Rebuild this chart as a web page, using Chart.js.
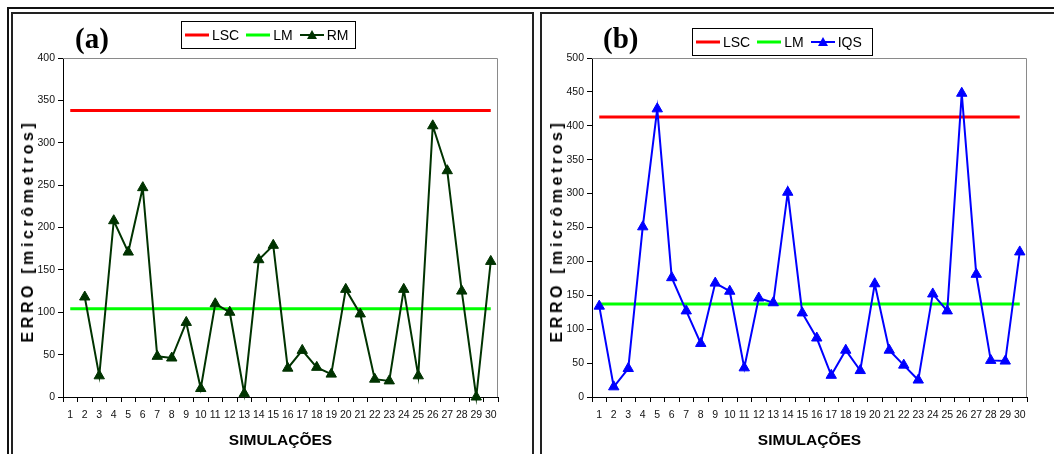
<!DOCTYPE html>
<html>
<head>
<meta charset="utf-8">
<script src="https://cdn.jsdelivr.net/npm/chart.js@4.4.1/dist/chart.umd.min.js"></script>
<style>
body{margin:0;width:1054px;height:454px;overflow:hidden;background:#fff;position:relative;font-family:"Liberation Sans",Arial,sans-serif}
.ln{position:absolute;background:#111}
.panel{position:absolute;box-sizing:border-box;border:2px solid #222;border-bottom:none}
canvas{position:absolute}
.tag{position:absolute;font:bold 29px "Liberation Serif","Times New Roman",serif;line-height:29px;color:#000}
.legend{position:absolute;border:1px solid #000;background:#fff;display:flex;align-items:center;box-sizing:border-box;padding-left:3px;font-size:14px;color:#000;white-space:nowrap}
.legend span{display:flex;align-items:center;margin-right:7px}
.legend svg{margin-right:3px}
.ytitle{position:absolute;font-weight:bold;font-size:16px;letter-spacing:3.6px;white-space:nowrap;color:#000;transform:translate(-50%,-50%) rotate(-90deg)}
</style>
</head>
<body>
<!-- molduras -->
<div class="ln" style="left:7px;top:7px;width:1047px;height:2px"></div>
<div class="ln" style="left:7px;top:7px;width:2px;height:447px"></div>
<div class="panel" style="left:11px;top:12px;width:523px;height:450px"></div>
<div class="panel" style="left:540px;top:12px;width:520px;height:450px;border-right:none"></div>

<canvas id="graficoA" width="516" height="439" style="left:14px;top:15px"></canvas>
<canvas id="graficoB" width="511" height="439" style="left:543px;top:15px"></canvas>

<div class="tag" style="left:75px;top:24px">(a)</div>
<div class="tag" style="left:603px;top:24px">(b)</div>
<div class="legend" id="legA" style="left:181px;top:21px;width:175px;height:28px"></div>
<div class="legend" id="legB" style="left:692px;top:28px;width:181px;height:28px"></div>
<div class="ytitle" style="left:28px;top:231px">ERRO [micrômetros]</div>
<div class="ytitle" style="left:557px;top:231px">ERRO [micrômetros]</div>

<script>
// dados
const simulacoes = ['1','2','3','4','5','6','7','8','9','10','11','12','13','14','15',
  '16','17','18','19','20','21','22','23','24','25','26','27','28','29','30'];
const rmValores = [null,118,25,208,171,247,48,46,88,10,110,100,4,162,179,
  34,55,35,27,127,98,21,19,127,25,320,267,125,0,160];
const iqsValores = [134,15,42,251,425,176,127,79,168,156,43,146,139,302,124,
  87,32,69,39,167,69,47,25,152,127,448,181,54,53,214];
const lscA = 338, lmA = 104;
const lscB = 413, lmB = 137;
const yMaxA = 400, yMaxB = 500, yPasso = 50;

const VERMELHO = '#ff0000', VERDE = '#00ff00', VERDE_ESCURO = '#003300', AZUL = '#0000ff';

const bordaArea = {
  id: 'bordaArea',
  beforeDatasetsDraw(chart) {
    const {ctx, chartArea: a} = chart;
    ctx.save();
    ctx.strokeStyle = '#8a8a8a';
    ctx.lineWidth = 1;
    ctx.beginPath();
    ctx.moveTo(a.left, a.top + 0.5);
    ctx.lineTo(a.right - 0.5, a.top + 0.5);
    ctx.lineTo(a.right - 0.5, a.bottom);
    ctx.stroke();
    ctx.restore();
  }
};

function limite(label, valor, cor) {
  return {
    label: label,
    data: [{x: simulacoes[0], y: valor}, {x: simulacoes[simulacoes.length - 1], y: valor}],
    borderColor: cor,
    backgroundColor: cor,
    borderWidth: 3,
    pointRadius: 0,
    order: 2
  };
}

function grafico(id, legId, serieLabel, serieValores, cor, lsc, lm, yMax, padDir) {
  const datasets = [
    limite('LSC', lsc, VERMELHO),
    limite('LM', lm, VERDE),
    {
      label: serieLabel,
      data: serieValores,
      borderColor: cor,
      backgroundColor: cor,
      borderWidth: 2,
      pointStyle: 'triangle',
      pointRadius: 6,
      pointBorderWidth: 1,
      clip: false,
      order: 0
    }
  ];

  new Chart(document.getElementById(id), {
    type: 'line',
    data: {labels: simulacoes, datasets: datasets},
    options: {
      responsive: false,
      animation: false,
      layout: {padding: {top: 43, right: padDir, bottom: 0, left: 0}},
      plugins: {legend: {display: false}, tooltip: {enabled: false}},
      scales: {
        x: {
          type: 'category',
          offset: true,
          afterFit: s => { s.height = 57; },
          grid: {offset: true, drawOnChartArea: false, tickLength: 5, color: '#000'},
          border: {color: '#000', width: 1},
          ticks: {autoSkip: false, maxRotation: 0, padding: 7, color: '#111',
            font: {family: '"Liberation Sans", Arial', size: 10.5}},
          title: {display: true, text: 'SIMULAÇÕES', color: '#000', padding: {top: 0, bottom: 4},
            font: {family: '"Liberation Sans", Arial', size: 15.5, weight: 'bold'}}
        },
        y: {
          min: 0,
          max: yMax,
          afterFit: s => { s.width = 49; },
          grid: {drawOnChartArea: false, tickLength: 5, color: '#000'},
          border: {color: '#000', width: 1},
          ticks: {stepSize: yPasso, padding: 3, color: '#111',
            font: {family: '"Liberation Sans", Arial', size: 10.5}}
        }
      }
    },
    plugins: [bordaArea]
  });

  // legenda em caixa, como no original
  const leg = document.getElementById(legId);
  datasets.forEach(ds => {
    const item = document.createElement('span');
    const tri = ds.pointRadius > 0 ? `<polygon points="12,1 17,10 7,10" fill="${ds.borderColor}"/>` : '';
    const esp = ds.pointRadius > 0 ? 2 : 3;
    item.innerHTML = `<svg width="24" height="12"><line x1="0" y1="6" x2="24" y2="6" stroke="${ds.borderColor}" stroke-width="${esp}"/>${tri}</svg>${ds.label}`;
    leg.appendChild(item);
  });
}

grafico('graficoA', 'legA', 'RM', rmValores, VERDE_ESCURO, lscA, lmA, yMaxA, 32);
grafico('graficoB', 'legB', 'IQS', iqsValores, AZUL, lscB, lmB, yMaxB, 27);
</script>
</body>
</html>
